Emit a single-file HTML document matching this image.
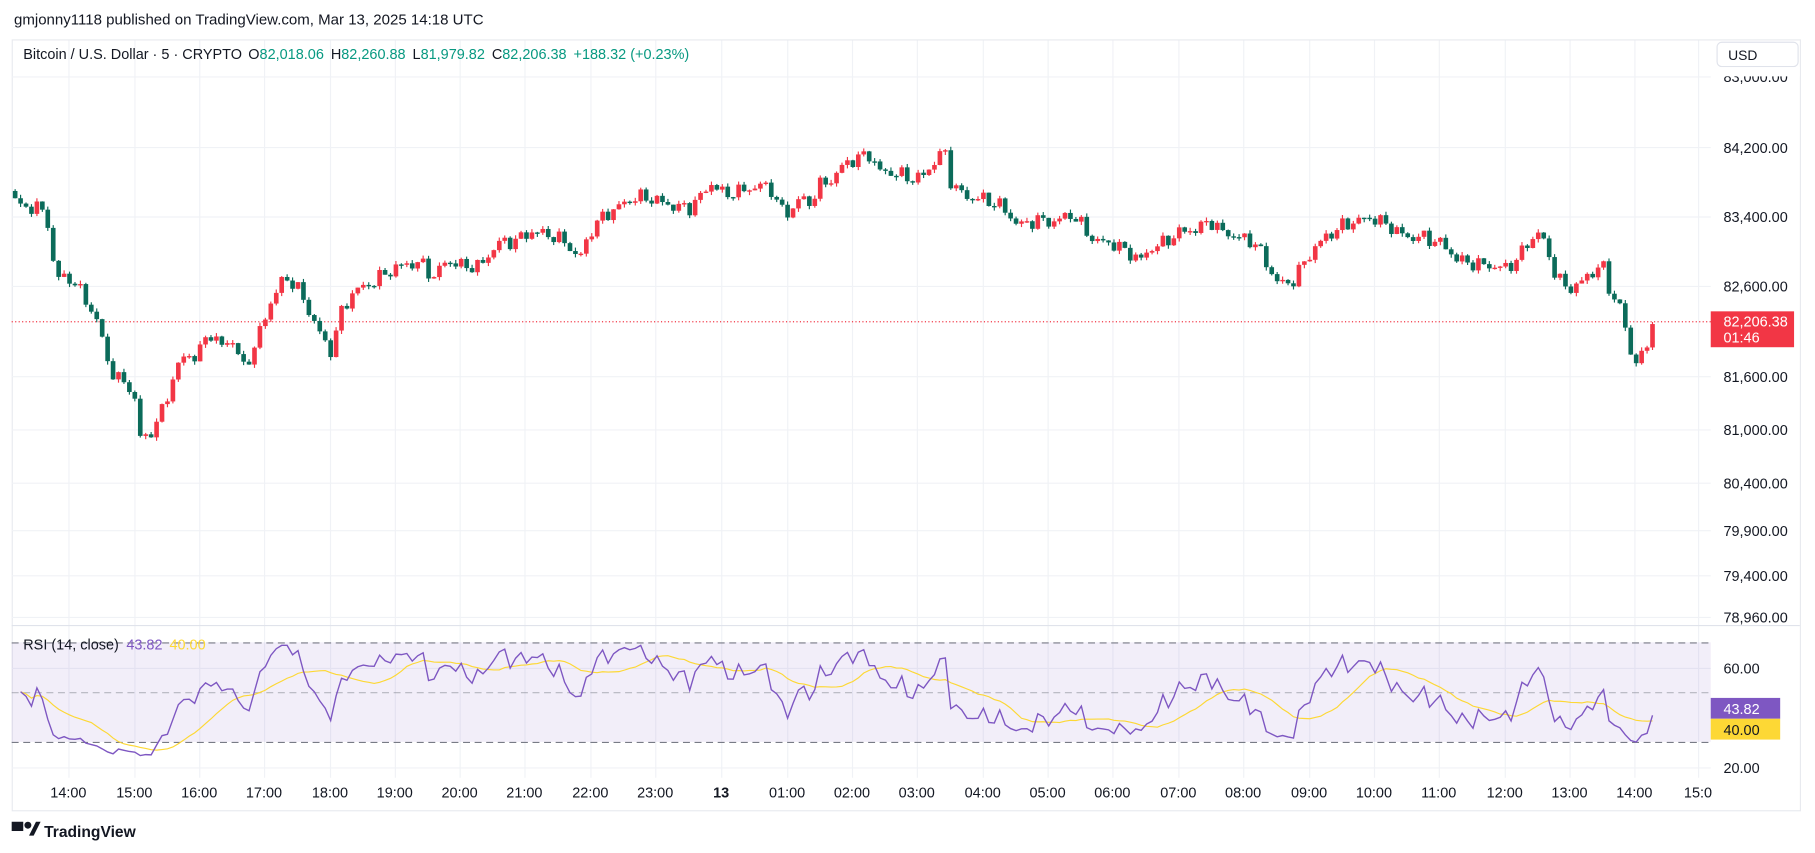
<!DOCTYPE html>
<html><head><meta charset="utf-8"><style>
html,body{margin:0;padding:0;background:#fff;width:1815px;height:853px;overflow:hidden}
svg{display:block;font-family:"Liberation Sans",sans-serif}
</style></head><body>
<svg id="s" width="1815" height="853" viewBox="0 0 1568 737" xmlns="http://www.w3.org/2000/svg">
<rect width="1568" height="737" fill="#fff"/>
<text x="12" y="21" font-size="13" fill="#131722">gmjonny1118 published on TradingView.com, Mar 13, 2025 14:18 UTC</text>
<rect x="10.5" y="34.5" width="1545" height="666" fill="#fff" stroke="#e8eaef"/>
<g id="grid" stroke="#f0f2f6" stroke-width="1"></g>
<line x1="10" y1="540.5" x2="1555" y2="540.5" stroke="#e0e3eb"/>
<rect x="10" y="555" width="1468" height="86" fill="#7e57c2" fill-opacity="0.1"/>
<g stroke="#787b86" stroke-dasharray="6,4" stroke-width="1">
<line x1="10" y1="555.5" x2="1478" y2="555.5"/><line x1="10" y1="598.5" x2="1478" y2="598.5" stroke-opacity="0.5"/><line x1="10" y1="641.5" x2="1478" y2="641.5"/></g>
<line x1="10" y1="278" x2="1478" y2="278" stroke="#f23645" stroke-dasharray="1,2"/>
<g id="candles"></g>
<polyline id="ma" fill="none" stroke="#fdd835" stroke-width="1"/>
<polyline id="rsi" fill="none" stroke="#7e57c2" stroke-width="1.2"/>
<text x="20" y="51" font-size="12.5" fill="#131722">Bitcoin / U.S. Dollar · 5 · CRYPTO <tspan dx="2">O</tspan><tspan fill="#089981">82,018.06</tspan><tspan dx="6">H</tspan><tspan fill="#089981">82,260.88</tspan><tspan dx="6">L</tspan><tspan fill="#089981">81,979.82</tspan><tspan dx="6">C</tspan><tspan fill="#089981">82,206.38</tspan><tspan dx="6" fill="#089981">+188.32 (+0.23%)</tspan></text>
<text x="20" y="561" font-size="12.5" fill="#131722">RSI (14, close) <tspan fill="#7e57c2" dx="3">43.82</tspan><tspan fill="#fdd835" dx="6">40.00</tspan></text>
<rect x="1483.5" y="36.5" width="70" height="21" rx="4" fill="#fff" stroke="#e0e3eb"/>
<text x="1493" y="52" font-size="12" fill="#131722">USD</text>
<g font-size="12.5" fill="#131722" id="plabels">
<text x="1489" y="71">83,000.00</text>
<text x="1489" y="132">84,200.00</text><text x="1489" y="192">83,400.00</text><text x="1489" y="252">82,600.00</text>
<text x="1489" y="330">81,600.00</text><text x="1489" y="376">81,000.00</text><text x="1489" y="422">80,400.00</text>
<text x="1489" y="463">79,900.00</text><text x="1489" y="502">79,400.00</text><text x="1489" y="538">78,960.00</text>
<text x="1489" y="582">60.00</text><text x="1489" y="668">20.00</text></g>
<rect x="1478" y="58" width="77" height="8" fill="#fff"/>
<rect x="1478" y="269" width="72" height="31" fill="#f23645"/>
<text x="1489" y="282" font-size="12.5" fill="#fff">82,206.38</text>
<text x="1489" y="296" font-size="12.5" fill="#fff">01:46</text>
<rect x="1478" y="603" width="60" height="18" fill="#7e57c2"/>
<text x="1489" y="617" font-size="12.5" fill="#fff">43.82</text>
<rect x="1478" y="621" width="60" height="18" fill="#fdd835"/>
<text x="1489" y="635" font-size="12.5" fill="#131722">40.00</text>
<g id="tl" font-size="12.5" fill="#131722" text-anchor="middle"></g>
<rect x="10" y="710" width="10" height="8" fill="#131722"/>
<circle cx="24" cy="713" r="3" fill="#131722"/>
<path d="M25 722 L31 710 L35 710 L29 722 Z" fill="#131722"/>
<text x="38" y="723" font-size="13.5" font-weight="bold" fill="#131722">TradingView</text>
</svg>
<script>
(function(){
var NS="http://www.w3.org/2000/svg";
function el(t,a,p){var e=document.createElementNS(NS,t);for(var k in a)e.setAttribute(k,a[k]);(p||document.getElementById('s')).appendChild(e);return e;}
var hours=["14:00","15:00","16:00","17:00","18:00","19:00","20:00","21:00","22:00","23:00","13","01:00","02:00","03:00","04:00","05:00","06:00","07:00","08:00","09:00","10:00","11:00","12:00","13:00","14:00","15:0"];
var hx=[59,116,172,228,285,341,397,453,510,566,623,680,736,792,849,905,961,1018,1074,1131,1187,1243,1300,1356,1412,1467];
var g=document.getElementById('grid'),tl=document.getElementById('tl');
hx.forEach(function(x,i){el('line',{x1:x+.5,y1:35,x2:x+.5,y2:672},g);var t=el('text',{x:x,y:689,'font-weight':hours[i]=="13"?"bold":"normal"},tl);t.textContent=hours[i];});
[66,127,187,247,325,371,417,458,497,533,577,663].forEach(function(y){el('line',{x1:10,y1:y+.5,x2:1478,y2:y+.5},g);});
var P=[[10,155],[15,180],[30,178],[40,185],[48,240],[60,240],[72,255],[85,280],[95,320],[105,330],[115,335],[120,378],[130,375],[140,355],[150,325],[160,305],[170,310],[180,285],[190,300],[200,292],[210,318],[220,300],[232,265],[245,240],[255,245],[265,265],[275,285],[285,305],[295,270],[305,252],[320,245],[335,235],[350,228],[365,228],[375,240],[385,225],[400,230],[415,230],[430,210],[445,208],[460,200],[475,203],[490,210],[500,225],[510,200],[520,188],[535,178],[550,170],[565,172],[580,178],[595,180],[605,170],[615,158],[625,168],[640,165],[650,162],[665,160],[672,178],[682,185],[690,172],[700,175],[710,158],[720,155],[730,140],[740,138],[750,132],[760,148],[775,150],[790,155],[800,150],[810,135],[818,132],[822,160],[835,170],[850,172],[865,178],[880,195],[895,190],[910,192],[925,185],[935,195],[945,208],[960,210],[975,218],[985,225],[995,214],[1005,210],[1020,200],[1035,198],[1045,190],[1055,200],[1070,205],[1085,210],[1095,230],[1105,245],[1115,245],[1125,230],[1135,215],[1145,205],[1160,195],[1175,190],[1185,188],[1200,195],[1215,205],[1230,205],[1245,210],[1260,225],[1275,228],[1290,230],[1300,232],[1310,225],[1320,210],[1330,200],[1338,220],[1345,240],[1355,250],[1365,245],[1375,235],[1385,230],[1392,255],[1400,265],[1410,310],[1418,310],[1425,295],[1430,280]];
function interp(x){for(var i=1;i<P.length;i++){if(x<=P[i][0]){var a=P[i-1],b=P[i];return a[1]+(b[1]-a[1])*(x-a[0])/(b[0]-a[0]);}}return P[P.length-1][1];}
var cg=document.getElementById('candles');var xs=[],cl=[];var prev=interp(12);
for(var x=13;x<=1431;x+=4.7){var c=interp(x)+Math.sin(x*1.7)*4+Math.sin(x*0.53)*3;if(x>1425)c=280;var o=prev;
var up=c<o;var bt=Math.min(o,c),h=Math.max(Math.abs(c-o),1.2);var col=up?"#f23645":"#0b6b5a";
var w1=Math.abs(Math.sin(x*3.1))*3,w2=Math.abs(Math.cos(x*2.3))*3;
el('line',{x1:x,y1:bt-w1,x2:x,y2:bt+h+w2,stroke:col,'stroke-width':1},cg);
el('rect',{x:x-2,y:bt,width:4,height:h,fill:col},cg);xs.push(x);cl.push(-c);prev=c;}
var n=14,ag=3,al=2.6,r=[];for(var i=1;i<cl.length;i++){var d=cl[i]-cl[i-1];var gg=d>0?d:0,ll=d<0?-d:0;ag=(ag*(n-1)+gg)/n;al=(al*(n-1)+ll)/n;var v=al==0?100:100-100/(1+ag/al);if(v<36)v=36-(36-v)*0.45;r.push(Math.max(22,Math.min(69,v)));}
function ry(v){return 598.5-(v-50)*2.15;}
var pts=[],mp=[];for(var i=0;i<r.length;i++){pts.push(xs[i+1]+","+ry(r[i]).toFixed(1));var s=0,cnt=0;for(var k=Math.max(0,i-13);k<=i;k++){s+=r[k];cnt++;}mp.push(xs[i+1]+","+ry(s/cnt).toFixed(1));}
document.getElementById('rsi').setAttribute('points',pts.join(' '));document.getElementById('ma').setAttribute('points',mp.join(' '));
})();
</script>
</body></html>
